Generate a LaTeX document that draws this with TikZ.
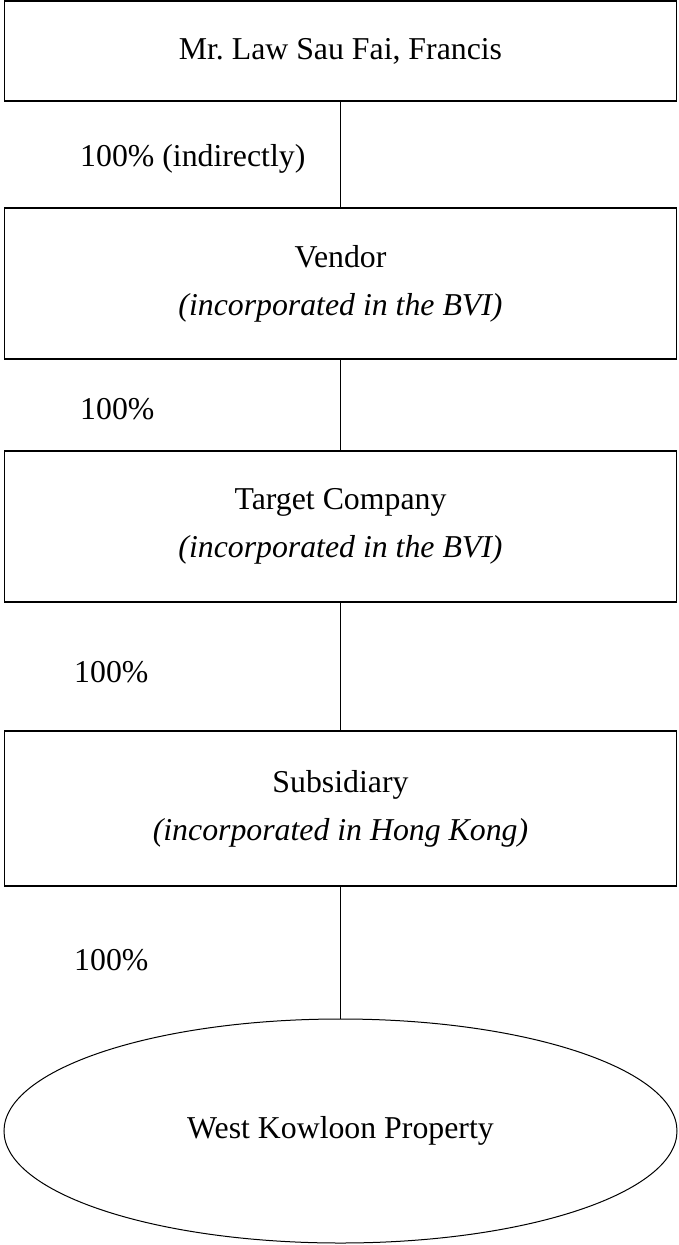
\documentclass[tikz,border=0pt]{standalone}
\usepackage{fontspec}
\setmainfont{Liberation Serif}
\usetikzlibrary{shapes.geometric}
\begin{document}
\begin{tikzpicture}[x=1pt,y=-1pt,
  every node/.style={font=\fontsize{31.8}{48}\selectfont},
  entity/.style={draw,line width=1.5pt,minimum width=672pt,inner sep=0pt,align=center},
  prop/.style={draw,ellipse,line width=1pt,minimum width=673pt,minimum height=224pt,inner sep=0pt},
  link/.style={line width=1pt},
  pct/.style={anchor=base west,inner sep=0pt}]
\useasboundingbox (0,0) rectangle (678,1245);
\node[entity,minimum height=100pt] (owner) at (340.5,51) {Mr.\ Law Sau Fai, Francis};
\node[entity,minimum height=151pt] (vendor) at (340.5,283.5) {Vendor\\\textit{(incorporated in the BVI)}};
\node[entity,minimum height=151pt] (target) at (340.5,526.5) {Target Company\\\textit{(incorporated in the BVI)}};
\node[entity,minimum height=155pt] (sub) at (340.5,808.5) {Subsidiary\\\textit{(incorporated in Hong Kong)}};
\node[prop] (wk) at (340.5,1131) {West Kowloon Property};
\draw[link] (owner.south) -- (vendor.north);
\draw[link] (vendor.south) -- (target.north);
\draw[link] (target.south) -- (sub.north);
\draw[link] (sub.south) -- (wk.north);
\node[pct] (p1) at (80,166) {100\% (indirectly)};
\node[pct] (p2) at (80,419) {100\%};
\node[pct] (p3) at (74,682) {100\%};
\node[pct] (p4) at (74,970) {100\%};
\end{tikzpicture}
\end{document}
